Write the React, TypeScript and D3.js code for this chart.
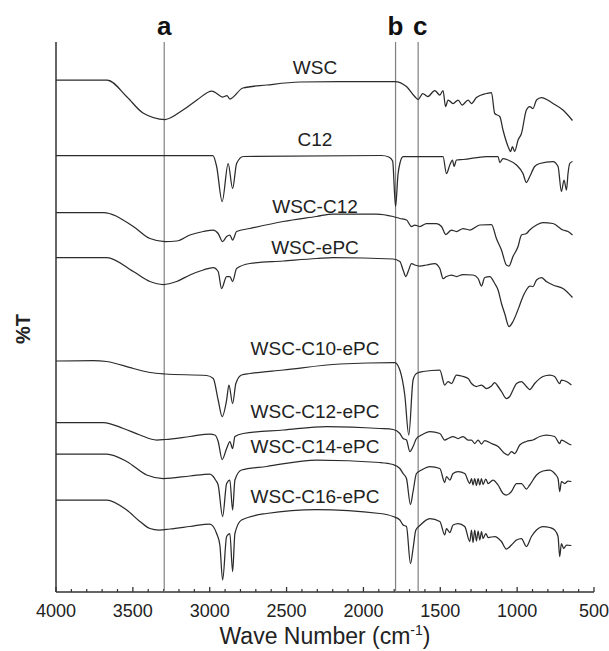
import React from "react";
import * as d3 from "d3";

type Pt = [number, number];

// FTIR spectra, wave number (cm-1) vs stacked %T (offset units)
const seriesNames = [
  "WSC",
  "C12",
  "WSC-C12",
  "WSC-ePC",
  "WSC-C10-ePC",
  "WSC-C12-ePC",
  "WSC-C14-ePC",
  "WSC-C16-ePC",
];

const wsc: Pt[] = [
  [4000, 102.4], [3668, 102.4], [3538, 99], [3434, 95.8], [3291, 94.5], [3174, 96.4],
  [3083, 98.4], [2986, 100.2], [2914, 99], [2888, 99.3], [2869, 98.6], [2784, 100.8],
  [2628, 101.4], [2414, 102], [2153, 102.1], [1796, 102.1], [1720, 101.1], [1666, 99.1],
  [1644, 98.5], [1614, 99.7], [1581, 99.1], [1536, 100.3], [1503, 99.4], [1482, 100.3],
  [1466, 97.1], [1449, 98.4], [1417, 97.7], [1384, 98.4], [1358, 97.4], [1319, 98.4],
  [1297, 97.7], [1265, 98.9], [1200, 99.7], [1167, 99.9], [1146, 95.7], [1113, 95.1],
  [1092, 92.4], [1059, 89.1], [1042, 88.1], [1031, 89.1], [1016, 88.1], [994, 90.4],
  [972, 91.7], [940, 96.4], [918, 97.1], [897, 96.7], [874, 98.4], [842, 98.9],
  [767, 97.7], [702, 96.4], [640, 94.3],
];

const c12: Pt[] = [
  [4000, 87.3], [2979, 87.3], [2955, 85.1], [2919, 78.1], [2880, 85.7], [2851, 80.7],
  [2825, 85.7], [2782, 87.1], [1882, 87.3], [1835, 87], [1810, 86.2], [1791, 77.1],
  [1775, 83.5], [1763, 85.7], [1742, 87.1], [1482, 87.1], [1460, 83.7], [1438, 85.4],
  [1421, 86.4], [1410, 85.1], [1395, 86.4], [1352, 86.5], [1200, 87.1], [1124, 87.1],
  [1113, 85.9], [1092, 86.7], [1059, 86.4], [1004, 85.4], [962, 83.7], [940, 81.9],
  [918, 83.1], [886, 85.1], [853, 85.7], [767, 86.1], [734, 85.1], [712, 80.1],
  [695, 82.4], [679, 80.4], [669, 83.7], [658, 85.7], [640, 86.1],
];

const wscC12: Pt[] = [
  [4000, 75.9], [3692, 75.9], [3497, 73.1], [3389, 70.7], [3291, 70.1], [3215, 70.2],
  [3129, 71.4], [3042, 72.1], [2977, 72.4], [2945, 71.7], [2916, 70.1], [2890, 71.1],
  [2869, 71.4], [2851, 70.4], [2825, 72.1], [2739, 72.7], [2522, 74.1], [2305, 75.1],
  [2197, 75.6], [1915, 75.6], [1807, 75.1], [1763, 74.7], [1720, 74.4], [1687, 73.1],
  [1666, 73.4], [1633, 73.1], [1590, 73.7], [1525, 73.7], [1492, 73.1], [1464, 71.5],
  [1427, 72.4], [1395, 72.1], [1352, 72.7], [1308, 72.4], [1243, 73.4], [1167, 73.5],
  [1135, 70.7], [1102, 68.4], [1070, 65.4], [1053, 65.2], [1027, 67.1], [994, 69.1],
  [972, 71.4], [940, 71.7], [918, 72.4], [874, 73.4], [832, 73.9], [767, 73.7],
  [702, 72.4], [669, 72.1], [640, 71.4],
];

const wscEPC: Pt[] = [
  [4000, 66.9], [3670, 66.9], [3497, 64.1], [3389, 62.1], [3302, 61.5], [3215, 62.1],
  [3129, 63.4], [3042, 64.4], [2977, 64.9], [2945, 64.1], [2923, 60.7], [2890, 63.1],
  [2869, 63.1], [2851, 62.1], [2825, 64.7], [2739, 65.7], [2522, 66.2], [2305, 66.7],
  [2197, 66.9], [1807, 66.6], [1763, 66.1], [1742, 64.4], [1724, 63.1], [1709, 64.1],
  [1687, 65.7], [1666, 65.4], [1633, 65.2], [1590, 65.4], [1536, 65.7], [1503, 64.7],
  [1482, 62.7], [1460, 63.1], [1427, 63.4], [1395, 63.1], [1352, 63.5], [1287, 63.4],
  [1254, 62.7], [1232, 61.2], [1211, 62.9], [1178, 63.1], [1146, 61.7], [1124, 60.4],
  [1102, 57.7], [1081, 55.7], [1053, 53.1], [1027, 54.1], [1004, 55.7], [983, 57.4],
  [962, 59.1], [940, 60.4], [918, 61.2], [897, 61.1], [874, 62.4], [842, 62.9],
  [810, 62.1], [767, 61.4], [702, 60.7], [640, 58.9],
];

const wscC10EPC: Pt[] = [
  [4000, 46.2], [3757, 46.3], [3670, 46.1], [3497, 44.7], [3389, 43.9], [3291, 43.6],
  [3020, 43.3], [2977, 42.7], [2945, 38.4], [2919, 35.1], [2890, 38.4], [2875, 41.4],
  [2851, 37.7], [2830, 41.7], [2793, 43.4], [2739, 43.7], [2522, 44.4], [2153, 45.6],
  [1796, 45.9], [1763, 44.4], [1731, 39.4], [1705, 31.4], [1677, 42.4], [1655, 43.7],
  [1612, 44.1], [1503, 44.4], [1471, 41.4], [1449, 42.1], [1427, 41.7], [1395, 43.4],
  [1362, 43.2], [1319, 42.7], [1297, 41.7], [1265, 41.1], [1232, 41.4], [1200, 40.7],
  [1167, 41.2], [1146, 41.9], [1124, 41.1], [1102, 40.1], [1070, 38.7], [1048, 39.1],
  [1027, 40.4], [1004, 41.7], [972, 42.1], [940, 41.1], [918, 40.5], [886, 41.7],
  [832, 43.1], [788, 43.4], [756, 43.1], [723, 41.7], [712, 42.4], [679, 42.1], [647, 41.4],
];

const wscC12EPC: Pt[] = [
  [4000, 33.9], [3692, 33.9], [3562, 32.7], [3454, 31.4], [3345, 30.4], [3291, 30.5],
  [3129, 31.1], [2999, 31.6], [2966, 31.4], [2945, 30.1], [2919, 26.5], [2890, 28.7],
  [2869, 30.1], [2851, 28.7], [2836, 31.1], [2782, 31.7], [2522, 32.4], [2240, 33.1],
  [1893, 32.7], [1807, 32.5], [1763, 31.7], [1742, 30.7], [1720, 30.4], [1698, 28.1],
  [1677, 29.1], [1655, 30.7], [1622, 31.4], [1568, 32.1], [1503, 31.7], [1471, 30.4],
  [1449, 30.7], [1417, 31.1], [1384, 30.7], [1352, 31.1], [1319, 30.4], [1297, 30.4],
  [1276, 29.7], [1254, 30.4], [1232, 29.6], [1211, 30.3], [1167, 29.7], [1124, 29.1],
  [1081, 27.7], [1059, 27.4], [1037, 28.1], [1016, 27.7], [983, 29.4], [940, 30.1],
  [897, 30.4], [853, 31.1], [810, 31.4], [756, 31.1], [723, 29.7], [712, 30.4],
  [690, 30.1], [669, 29.7], [647, 29.4],
];

const wscC14EPC: Pt[] = [
  [4000, 27.6], [3670, 27.6], [3540, 26.1], [3410, 23.4], [3302, 22.7], [3129, 23.2],
  [2999, 23.6], [2977, 23.1], [2962, 22.4], [2945, 21.4], [2916, 15.1], [2890, 21.7],
  [2869, 22.4], [2851, 16.4], [2836, 22.4], [2793, 24.4], [2630, 25.1], [2305, 26.4],
  [1893, 25.9], [1807, 25.5], [1763, 24.7], [1742, 23.7], [1720, 22.7], [1694, 17.5],
  [1677, 20.1], [1655, 23.7], [1622, 24.4], [1568, 25.1], [1503, 24.7], [1471, 21.9],
  [1460, 23.1], [1438, 22.4], [1417, 23.7], [1384, 24.1], [1341, 23.7], [1308, 21.7],
  [1297, 22.7], [1287, 21.4], [1276, 22.7], [1265, 21.3], [1254, 22.7], [1243, 21.4],
  [1232, 22.7], [1222, 21.5], [1204, 22.6], [1189, 21.7], [1157, 22.4], [1124, 21.4],
  [1092, 19.7], [1070, 19.4], [1037, 20.1], [1004, 21.7], [972, 21.7], [940, 20.6],
  [918, 21.4], [874, 23.4], [832, 24.2], [788, 24.4], [756, 23.7], [734, 22.7],
  [723, 20.1], [712, 22.1], [690, 21.7], [669, 22.2], [647, 22.1],
];

const wscC16EPC: Pt[] = [
  [4000, 18.4], [3670, 18.4], [3540, 16.4], [3454, 14.1], [3389, 12.7], [3330, 12.4],
  [3260, 12.6], [3129, 13.1], [2999, 13.6], [2977, 13.1], [2955, 11.7], [2934, 9.4],
  [2916, 2.4], [2890, 11.1], [2869, 11.7], [2851, 4.1], [2836, 11.7], [2793, 14.4],
  [2630, 15.7], [2305, 16.5], [1893, 15.7], [1807, 15.1], [1763, 14.4], [1742, 13.4],
  [1720, 13.1], [1694, 5.7], [1677, 8.7], [1659, 12.4], [1633, 13.3], [1568, 14.7],
  [1503, 14.1], [1471, 11.4], [1460, 12.7], [1438, 11.9], [1417, 13.4], [1384, 13.7],
  [1341, 13.1], [1308, 10.1], [1297, 12.4], [1287, 9.9], [1276, 12.4], [1265, 10.2],
  [1254, 12.2], [1243, 10.4], [1232, 12.1], [1222, 10.7], [1204, 11.7], [1189, 10.9],
  [1146, 11.1], [1102, 10.1], [1070, 8.6], [1037, 9.4], [1004, 10.4], [972, 10.7],
  [940, 9.1], [907, 11.1], [874, 12.4], [832, 13.1], [788, 12.9], [756, 12.4],
  [734, 11.1], [723, 7.1], [712, 9.7], [697, 8.7], [679, 9.4], [647, 9.3],
];

const spectra: Pt[][] = [wsc, c12, wscC12, wscEPC, wscC10EPC, wscC12EPC, wscC14EPC, wscC16EPC];

// reference lines
const markerNames = ["a", "b", "c"];
const markerWaves = [3296, 1791, 1644];

const majorTicks = [4000, 3500, 3000, 2500, 2000, 1500, 1000, 500];

export default function App() {
  const width = 609;
  const height = 651;
  const margin = { top: 42, right: 15, bottom: 59, left: 56 };
  const font = "'Liberation Sans', Arial, Helvetica, sans-serif";

  const x = d3.scaleLinear().domain([4000, 500]).range([margin.left, width - margin.right]);
  const y = d3.scaleLinear().domain([0, 110]).range([height - margin.bottom, margin.top]);
  const y0 = height - margin.bottom;

  const line = d3
    .line<Pt>()
    .x(d => x(d[0]))
    .y(d => y(d[1]))
    .curve(d3.curveMonotoneX);

  const minorTicks = d3.range(4000, 499, -100).filter(t => t % 500 !== 0);

  // label sits a little above each trace, around 2315 cm-1
  const labelWave = 2315;
  const labelLift = [8, 10, 4, 5, 12, 9, 7, 7];

  const valueAt = (s: Pt[], w: number) => {
    for (let i = 0; i < s.length - 1; i++) {
      if (s[i][0] >= w && s[i + 1][0] <= w) {
        const t = (s[i][0] - w) / (s[i][0] - s[i + 1][0]);
        return s[i][1] + t * (s[i + 1][1] - s[i][1]);
      }
    }
    return s[0][1];
  };

  return (
    <svg
      width={width}
      height={height}
      style={{ position: "absolute", left: 0, top: 0, background: "#fff" }}
      fontFamily={font}
    >
      {/* axes */}
      <line x1={x(4000)} x2={x(4000)} y1={margin.top} y2={y0} stroke="#333" strokeWidth={1.5} />
      <line x1={x(4000)} x2={x(500)} y1={y0} y2={y0} stroke="#333" strokeWidth={1.5} />
      {majorTicks.map(t => (
        <g key={t}>
          <line x1={x(t)} x2={x(t)} y1={y0} y2={y0 - 5} stroke="#333" strokeWidth={1.3} />
          <text x={x(t)} y={617} textAnchor="middle" fontSize={18} fill="#222">
            {t}
          </text>
        </g>
      ))}
      {minorTicks.map(t => (
        <line key={t} x1={x(t)} x2={x(t)} y1={y0} y2={y0 - 3} stroke="#333" strokeWidth={1.2} />
      ))}

      {/* reference lines */}
      {markerWaves.map((w, i) => (
        <g key={markerNames[i]}>
          <line x1={x(w)} x2={x(w)} y1={margin.top} y2={y0} stroke="#808080" strokeWidth={1.2} />
          <text
            x={x(w) + (i === 2 ? 2 : 0)}
            y={35}
            textAnchor="middle"
            fontSize={26}
            fontWeight="bold"
            fill="#111"
          >
            {markerNames[i]}
          </text>
        </g>
      ))}

      {/* spectra */}
      {spectra.map((s, i) => (
        <path
          key={seriesNames[i]}
          d={line(s) || ""}
          fill="none"
          stroke="#2b2b2b"
          strokeWidth={1.25}
          strokeLinejoin="round"
        />
      ))}
      {spectra.map((s, i) => (
        <text
          key={"l" + seriesNames[i]}
          x={x(labelWave)}
          y={y(valueAt(s, labelWave)) - labelLift[i]}
          textAnchor="middle"
          fontSize={19}
          fill="#222"
        >
          {seriesNames[i]}
        </text>
      ))}

      {/* axis titles */}
      <text
        transform={`translate(30, 329) rotate(-90)`}
        textAnchor="middle"
        fontSize={20}
        fontWeight="bold"
        fill="#222"
      >
        %T
      </text>
      <text x={325} y={644} textAnchor="middle" fontSize={23} fill="#222">
        Wave Number (cm
        <tspan fontSize={14} dy={-9}>-1</tspan>
        <tspan dy={9}>)</tspan>
      </text>
    </svg>
  );
}
